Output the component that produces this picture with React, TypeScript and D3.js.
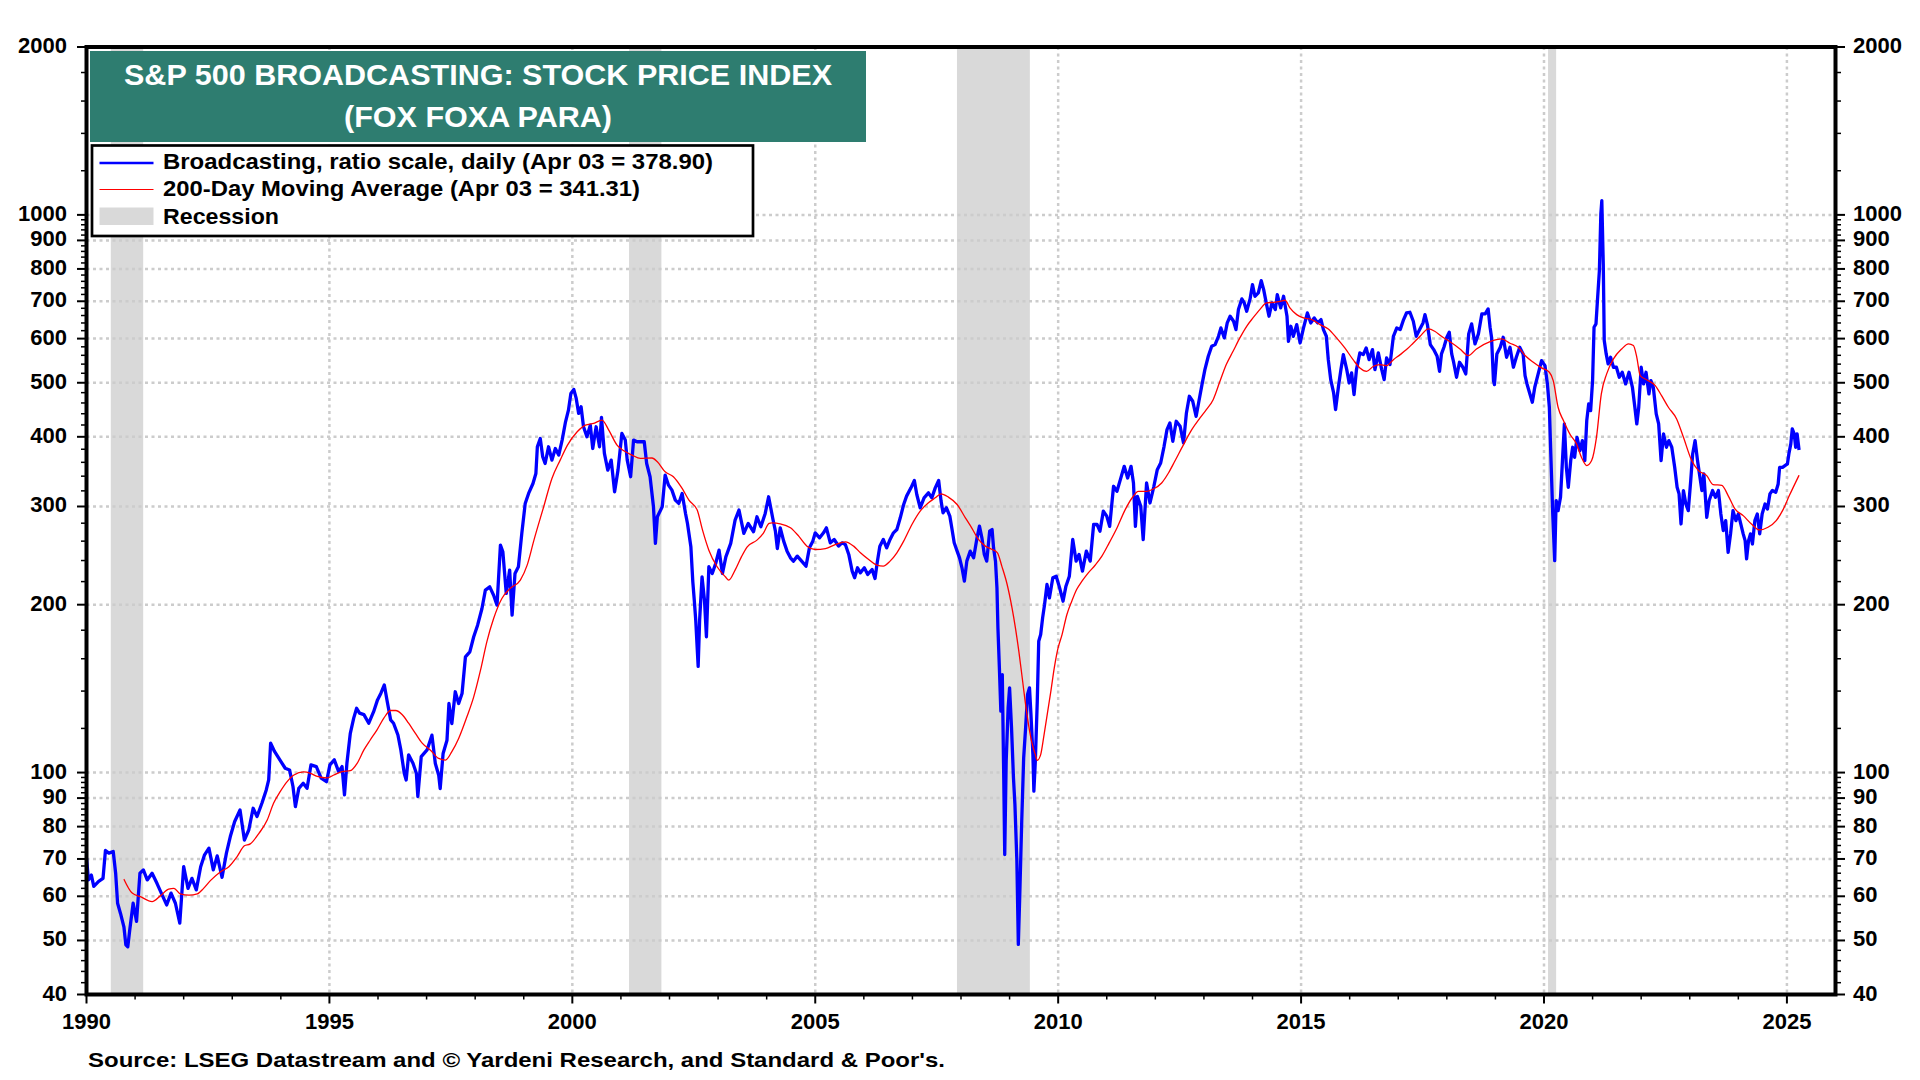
import * as d3 from 'd3';

// Broadcasting index, [decimal year, value]
const price1990s = [
  [1990.0, 70.2], [1990.04, 64.2], [1990.1, 65.5], [1990.15, 62.5], [1990.25, 63.8], [1990.34, 64.6], [1990.39, 72.5], [1990.46, 71.7],
  [1990.55, 72.2], [1990.6, 66.0], [1990.64, 58.3], [1990.7, 55.9], [1990.77, 52.9], [1990.81, 49.1], [1990.85, 48.7], [1990.89, 52.2],
  [1990.96, 58.3], [1991.03, 54.1], [1991.1, 66.0], [1991.17, 66.9], [1991.25, 64.2], [1991.35, 66.0], [1991.45, 63.3], [1991.54, 60.8],
  [1991.65, 57.9], [1991.74, 60.8], [1991.83, 58.3], [1991.92, 53.7], [1992.0, 67.8], [1992.09, 62.0], [1992.17, 64.6], [1992.26, 61.6],
  [1992.35, 67.8], [1992.43, 71.2], [1992.52, 73.2], [1992.61, 66.9], [1992.69, 70.9], [1992.79, 64.9], [1992.88, 71.7], [1992.96, 76.8],
  [1993.05, 81.7], [1993.16, 85.7], [1993.25, 75.7], [1993.34, 78.9], [1993.43, 86.3], [1993.51, 83.4], [1993.61, 88.1], [1993.7, 93.1],
  [1993.75, 97.0], [1993.79, 112.9], [1993.87, 109.1], [1993.98, 105.4], [1994.09, 101.8], [1994.18, 101.1], [1994.25, 94.4], [1994.3, 86.9],
  [1994.37, 93.7], [1994.46, 95.7], [1994.54, 93.7], [1994.62, 103.2], [1994.73, 102.5], [1994.83, 97.7], [1994.94, 96.3], [1995.01, 103.2],
  [1995.1, 105.4], [1995.19, 100.4], [1995.26, 102.5], [1995.31, 91.2], [1995.36, 103.9], [1995.43, 117.6], [1995.5, 125.2], [1995.56, 130.4],
  [1995.62, 127.8], [1995.71, 127.0], [1995.81, 122.6], [1995.91, 128.6], [1995.99, 135.0], [1996.06, 138.8], [1996.13, 143.6], [1996.19, 134.1],
  [1996.26, 124.3], [1996.32, 122.6], [1996.41, 116.8], [1996.47, 109.8], [1996.54, 99.7], [1996.58, 97.0], [1996.63, 107.6], [1996.72, 103.9],
  [1996.79, 99.7], [1996.82, 90.6], [1996.89, 106.8], [1997.01, 109.8], [1997.11, 116.7], [1997.18, 103.8], [1997.25, 98.9], [1997.28, 93.6],
  [1997.34, 108.2], [1997.42, 114.3], [1997.46, 133.0], [1997.52, 122.4], [1997.59, 139.6], [1997.66, 133.0], [1997.73, 138.6], [1997.8, 161.3],
  [1997.89, 164.6], [1997.97, 175.2], [1998.05, 183.8], [1998.14, 196.9], [1998.21, 212.4], [1998.3, 215.3], [1998.38, 208.0], [1998.45, 199.6],
  [1998.52, 255.7], [1998.57, 248.8], [1998.64, 209.5], [1998.71, 230.7], [1998.76, 191.5], [1998.82, 227.5], [1998.89, 233.9], [1998.96, 268.4],
  [1999.03, 303.8], [1999.1, 316.6], [1999.19, 329.9], [1999.25, 343.8], [1999.28, 383.9], [1999.34, 397.3], [1999.39, 368.4], [1999.44, 358.3],
  [1999.51, 383.9], [1999.58, 363.3], [1999.65, 381.2], [1999.72, 370.9], [1999.79, 394.6], [1999.86, 425.6], [1999.92, 446.6], [1999.97, 478.5],
];

const price2000s = [
  [2000.03, 486.4], [2000.08, 468.7], [2000.13, 440.5], [2000.18, 452.8], [2000.23, 416.9], [2000.3, 400.0], [2000.37, 419.8], [2000.42, 381.2],
  [2000.49, 416.9], [2000.56, 383.9], [2000.6, 433.3], [2000.66, 373.5], [2000.73, 348.6], [2000.8, 363.3], [2000.87, 318.8], [2000.94, 348.6],
  [2001.02, 405.6], [2001.09, 394.6], [2001.13, 363.3], [2001.2, 339.2], [2001.26, 394.6], [2001.33, 391.9], [2001.42, 391.9], [2001.48, 391.9],
  [2001.53, 358.3], [2001.6, 339.2], [2001.67, 299.6], [2001.71, 257.6], [2001.75, 287.5], [2001.85, 299.6], [2001.91, 341.5], [2001.98, 327.6],
  [2002.05, 321.0], [2002.12, 308.0], [2002.19, 303.8], [2002.26, 316.6], [2002.33, 291.5], [2002.37, 279.7], [2002.44, 254.0], [2002.48, 219.8],
  [2002.51, 203.8], [2002.54, 187.6], [2002.59, 155.0], [2002.62, 187.6], [2002.67, 224.4], [2002.72, 203.8], [2002.76, 175.2], [2002.81, 233.9],
  [2002.88, 227.5], [2002.95, 237.1], [2003.02, 250.5], [2003.09, 227.5], [2003.16, 243.7], [2003.26, 257.6], [2003.35, 283.6], [2003.43, 295.6],
  [2003.53, 268.4], [2003.62, 279.7], [2003.73, 270.3], [2003.8, 287.5], [2003.88, 275.9], [2003.97, 291.5], [2004.04, 312.3], [2004.13, 284.3],
  [2004.18, 270.9], [2004.22, 252.2], [2004.28, 274.7], [2004.35, 260.0], [2004.42, 249.5], [2004.49, 242.7], [2004.55, 239.4], [2004.63, 244.4],
  [2004.72, 239.4], [2004.81, 234.5], [2004.88, 252.9], [2004.95, 260.0], [2005.0, 269.1], [2005.09, 263.6], [2005.17, 269.1], [2005.23, 274.7],
  [2005.31, 258.2], [2005.39, 261.8], [2005.48, 254.7], [2005.55, 258.2], [2005.62, 256.4], [2005.69, 246.1], [2005.76, 229.7], [2005.81, 223.5],
  [2005.87, 232.9], [2005.93, 228.1], [2006.01, 232.9], [2006.08, 226.6], [2006.17, 231.3], [2006.23, 222.8], [2006.28, 239.4], [2006.33, 254.7],
  [2006.4, 261.8], [2006.47, 252.9], [2006.54, 261.8], [2006.61, 269.1], [2006.68, 272.8], [2006.75, 286.3], [2006.82, 302.5], [2006.88, 313.1],
  [2006.97, 324.0], [2007.04, 334.0], [2007.09, 315.2], [2007.16, 298.4], [2007.24, 310.9], [2007.33, 317.4], [2007.4, 310.9], [2007.47, 324.0],
  [2007.54, 334.0], [2007.59, 306.7], [2007.63, 292.3], [2007.7, 298.4], [2007.77, 288.3], [2007.81, 274.7], [2007.86, 258.2], [2007.92, 249.5],
  [2007.97, 242.7], [2008.02, 232.9], [2008.07, 220.4], [2008.12, 239.4], [2008.19, 249.5], [2008.26, 242.7], [2008.33, 263.6], [2008.38, 276.6],
  [2008.43, 263.6], [2008.48, 246.1], [2008.53, 239.4], [2008.59, 270.9], [2008.64, 272.8], [2008.67, 252.9], [2008.71, 239.4], [2008.74, 214.4],
  [2008.76, 181.8], [2008.79, 154.1], [2008.82, 128.9], [2008.85, 149.9], [2008.88, 97.8], [2008.9, 71.3], [2008.93, 104.8], [2008.97, 130.6],
  [2009.0, 141.9], [2009.04, 120.3], [2009.08, 97.8], [2009.11, 87.6], [2009.15, 69.4], [2009.18, 49.2], [2009.21, 60.4], [2009.25, 81.8],
  [2009.29, 106.3], [2009.33, 120.3], [2009.37, 138.0], [2009.41, 141.9], [2009.44, 127.1], [2009.48, 107.7], [2009.5, 92.6], [2009.53, 104.8],
  [2009.57, 134.3], [2009.6, 172.0], [2009.64, 176.8], [2009.68, 189.4], [2009.72, 200.1], [2009.77, 217.4], [2009.82, 205.7], [2009.89, 223.5],
  [2009.96, 225.0],
];

const price2010s = [
  [2010.03, 214.4], [2010.1, 202.9], [2010.16, 215.9], [2010.23, 225.0], [2010.3, 261.8], [2010.37, 239.4], [2010.43, 246.1], [2010.5, 229.7],
  [2010.58, 249.5], [2010.66, 239.4], [2010.73, 278.5], [2010.8, 278.5], [2010.86, 270.9], [2010.93, 294.3], [2011.0, 288.3], [2011.06, 276.4],
  [2011.14, 326.1], [2011.21, 319.4], [2011.28, 335.2], [2011.36, 354.1], [2011.43, 337.5], [2011.5, 354.1], [2011.55, 330.6], [2011.59, 276.4],
  [2011.63, 312.9], [2011.7, 300.2], [2011.75, 261.6], [2011.82, 330.6], [2011.89, 304.4], [2011.97, 326.1], [2012.04, 349.3], [2012.11, 359.0],
  [2012.18, 384.6], [2012.24, 412.0], [2012.3, 423.6], [2012.36, 392.6], [2012.43, 426.5], [2012.51, 417.8], [2012.58, 390.0], [2012.64, 441.4],
  [2012.7, 472.9], [2012.77, 463.2], [2012.84, 435.3], [2012.89, 460.0], [2012.96, 496.2], [2013.02, 527.9], [2013.09, 557.8], [2013.16, 581.3],
  [2013.23, 585.3], [2013.3, 605.8], [2013.35, 627.0], [2013.42, 601.7], [2013.48, 640.1], [2013.54, 658.0], [2013.61, 644.5], [2013.66, 622.7],
  [2013.71, 676.3], [2013.78, 706.8], [2013.83, 695.2], [2013.88, 671.7], [2013.95, 706.8], [2014.0, 749.8], [2014.05, 714.6], [2014.12, 724.5],
  [2014.18, 762.4], [2014.23, 734.6], [2014.29, 690.4], [2014.34, 658.0], [2014.4, 695.2], [2014.47, 676.3], [2014.51, 719.5], [2014.58, 681.0],
  [2014.64, 714.6], [2014.71, 658.0], [2014.74, 593.4], [2014.79, 631.3], [2014.84, 605.8], [2014.91, 635.7], [2014.98, 589.3], [2015.05, 627.0],
  [2015.13, 667.0], [2015.2, 640.1], [2015.27, 653.4], [2015.34, 640.1], [2015.41, 649.0], [2015.46, 622.7], [2015.52, 605.8], [2015.56, 550.1],
  [2015.61, 506.5], [2015.67, 479.4], [2015.71, 447.5], [2015.77, 492.8], [2015.82, 527.9], [2015.87, 561.6], [2015.94, 527.9], [2015.99, 499.6],
  [2016.04, 520.7], [2016.09, 476.1], [2016.14, 527.9], [2016.21, 565.5], [2016.28, 561.6], [2016.34, 577.3], [2016.4, 550.1], [2016.47, 573.4],
  [2016.52, 527.9], [2016.59, 565.5], [2016.66, 527.9], [2016.71, 506.5], [2016.76, 554.0], [2016.83, 538.9], [2016.9, 605.8], [2016.97, 627.0],
  [2017.04, 622.7], [2017.11, 649.0], [2017.17, 667.0], [2017.24, 668.9], [2017.31, 644.5], [2017.37, 605.8], [2017.44, 622.7], [2017.51, 640.1],
  [2017.55, 662.5], [2017.6, 635.7], [2017.66, 585.3], [2017.73, 573.4], [2017.8, 557.8], [2017.85, 524.2], [2017.89, 563.2], [2017.94, 579.0],
  [2018.0, 603.4], [2018.05, 616.0], [2018.1, 563.2], [2018.14, 544.2], [2018.2, 511.5], [2018.26, 544.2], [2018.33, 533.1], [2018.39, 518.6],
  [2018.45, 611.8], [2018.51, 637.6], [2018.58, 587.0], [2018.65, 611.8], [2018.72, 664.4], [2018.79, 664.4], [2018.85, 678.3], [2018.89, 628.8],
  [2018.92, 603.4], [2018.96, 504.5], [2018.98, 496.3], [2019.03, 563.2], [2019.1, 579.0], [2019.16, 603.4], [2019.23, 555.5], [2019.3, 579.0],
  [2019.37, 533.1], [2019.43, 555.5], [2019.5, 579.0], [2019.57, 563.2], [2019.61, 515.1], [2019.65, 497.6], [2019.71, 477.5], [2019.76, 461.3],
  [2019.81, 490.8], [2019.88, 518.6], [2019.95, 548.0],
];

const price2020s = [
  [2020.02, 536.8], [2020.07, 497.6], [2020.11, 451.9], [2020.14, 372.7], [2020.18, 290.9], [2020.22, 239.9], [2020.25, 307.4], [2020.29, 294.9],
  [2020.34, 311.6], [2020.38, 362.6], [2020.42, 421.8], [2020.46, 352.7], [2020.5, 324.8], [2020.55, 362.6], [2020.59, 383.1], [2020.63, 367.6],
  [2020.68, 399.2], [2020.74, 377.9], [2020.79, 393.8], [2020.84, 362.6], [2020.88, 427.7], [2020.92, 458.2], [2020.96, 445.7], [2021.0, 504.5],
  [2021.03, 628.8], [2021.07, 637.6], [2021.1, 702.0], [2021.14, 794.6], [2021.17, 1004.1], [2021.19, 1060.9], [2021.22, 816.8], [2021.24, 595.1],
  [2021.28, 563.2], [2021.32, 540.5], [2021.37, 555.5], [2021.43, 533.1], [2021.49, 533.1], [2021.55, 511.5], [2021.61, 522.2], [2021.68, 497.6],
  [2021.75, 522.2], [2021.82, 490.8], [2021.87, 451.9], [2021.91, 421.8], [2021.95, 451.9], [2022.0, 533.1], [2022.05, 497.6], [2022.1, 522.2],
  [2022.16, 477.5], [2022.2, 504.5], [2022.25, 490.8], [2022.31, 439.6], [2022.36, 421.8], [2022.41, 362.6], [2022.46, 404.8], [2022.52, 383.1],
  [2022.57, 393.8], [2022.63, 383.1], [2022.69, 352.7], [2022.74, 324.8], [2022.78, 316.0], [2022.82, 279.1], [2022.87, 320.4], [2022.92, 303.1],
  [2022.97, 294.9], [2023.02, 333.8], [2023.06, 372.7], [2023.11, 393.8], [2023.16, 362.6], [2023.2, 343.1], [2023.25, 320.4], [2023.29, 343.1],
  [2023.35, 286.9], [2023.4, 307.4], [2023.47, 320.4], [2023.53, 311.6], [2023.59, 320.4], [2023.64, 290.9], [2023.69, 271.6], [2023.74, 283.0],
  [2023.79, 248.3], [2023.84, 267.9], [2023.89, 294.9], [2023.95, 283.0], [2024.0, 290.9], [2024.05, 279.1], [2024.1, 267.9], [2024.14, 260.6],
  [2024.17, 241.6], [2024.21, 260.6], [2024.25, 267.9], [2024.29, 257.0], [2024.34, 283.0], [2024.39, 290.9], [2024.44, 267.9], [2024.49, 290.9],
  [2024.55, 303.1], [2024.6, 297.0], [2024.65, 316.0], [2024.7, 320.4], [2024.77, 318.1], [2024.82, 329.3], [2024.85, 352.7], [2024.91, 352.7],
  [2024.96, 355.2], [2025.01, 357.6], [2025.04, 372.7], [2025.08, 388.4], [2025.11, 413.3], [2025.15, 404.8], [2025.18, 383.1], [2025.21, 404.8],
  [2025.25, 378.9],
];

// 200-day moving average
const ma1990s = [
  [1990.77, 64.4], [1990.94, 60.8], [1991.11, 59.9], [1991.35, 58.7], [1991.52, 60.1], [1991.69, 61.8], [1991.8, 62.0], [1991.93, 60.6],
  [1992.11, 60.3], [1992.28, 60.6], [1992.41, 62.0], [1992.55, 64.0], [1992.76, 66.4], [1992.93, 67.8], [1993.1, 70.7], [1993.25, 73.9],
  [1993.37, 74.5], [1993.55, 77.8], [1993.72, 82.2], [1993.85, 88.1], [1993.99, 92.5], [1994.13, 96.3], [1994.27, 99.0], [1994.47, 100.3],
  [1994.61, 99.7], [1994.75, 98.4], [1994.95, 97.8], [1995.09, 99.0], [1995.26, 100.4], [1995.43, 100.8], [1995.57, 103.9], [1995.71, 109.8],
  [1995.84, 114.4], [1995.98, 119.3], [1996.12, 125.2], [1996.26, 129.2], [1996.36, 129.2], [1996.5, 127.0], [1996.63, 122.6], [1996.77, 117.6],
  [1996.91, 112.9], [1997.08, 109.7], [1997.25, 106.0], [1997.39, 105.3], [1997.52, 109.0], [1997.66, 115.1], [1997.83, 125.9], [1997.97, 136.7],
  [1998.11, 152.6], [1998.24, 171.6], [1998.38, 188.9], [1998.55, 205.2], [1998.72, 213.9], [1998.93, 221.4], [1999.07, 235.5], [1999.21, 261.1],
  [1999.41, 299.6], [1999.58, 336.8], [1999.75, 363.3], [1999.9, 386.5],
];

const ma2000s = [
  [2000.1, 408.4], [2000.27, 419.8], [2000.44, 422.7], [2000.61, 428.6], [2000.75, 411.2], [2000.92, 386.5], [2001.06, 377.6], [2001.23, 370.9],
  [2001.4, 365.8], [2001.64, 366.5], [2001.75, 360.9], [2001.91, 346.2], [2002.08, 339.2], [2002.26, 323.2], [2002.4, 308.0], [2002.57, 295.6],
  [2002.68, 272.1], [2002.81, 250.5], [2002.98, 233.9], [2003.15, 224.4], [2003.22, 221.4], [2003.35, 230.7], [2003.48, 243.7], [2003.6, 254.0],
  [2003.8, 261.1], [2003.93, 268.4], [2004.05, 279.7], [2004.11, 280.3], [2004.28, 279.3], [2004.49, 274.7], [2004.66, 265.4], [2004.83, 254.7],
  [2005.0, 251.2], [2005.21, 252.2], [2005.41, 256.4], [2005.62, 259.3], [2005.79, 254.7], [2005.93, 247.8], [2006.1, 241.0], [2006.27, 235.4],
  [2006.4, 234.5], [2006.54, 239.4], [2006.68, 247.8], [2006.82, 260.0], [2006.99, 278.5], [2007.16, 294.3], [2007.33, 304.6], [2007.47, 310.9],
  [2007.59, 316.1], [2007.74, 311.8], [2007.92, 302.5], [2008.09, 286.3], [2008.22, 274.7], [2008.36, 261.8], [2008.5, 254.7], [2008.64, 251.2],
  [2008.75, 247.8], [2008.84, 234.5], [2008.95, 217.4], [2009.05, 197.4], [2009.12, 181.8], [2009.19, 165.1], [2009.26, 147.9], [2009.32, 134.3],
  [2009.39, 121.9], [2009.46, 113.0], [2009.53, 107.7], [2009.57, 105.2], [2009.64, 107.7], [2009.71, 117.0], [2009.78, 128.0], [2009.85, 140.0],
  [2009.92, 154.1], [2009.99, 166.2],
];

const ma2010s = [
  [2010.08, 176.8], [2010.18, 192.1], [2010.28, 202.9], [2010.38, 212.9], [2010.49, 220.4], [2010.62, 228.1], [2010.76, 235.4], [2010.9, 244.4],
  [2011.05, 258.1], [2011.21, 274.5], [2011.38, 296.1], [2011.52, 310.7], [2011.65, 319.4], [2011.82, 319.4], [2011.96, 322.5], [2012.13, 330.6],
  [2012.27, 344.5], [2012.4, 361.6], [2012.58, 387.3], [2012.75, 412.0], [2012.92, 432.4], [2013.05, 447.5], [2013.19, 466.3], [2013.33, 503.0],
  [2013.46, 538.9], [2013.6, 569.4], [2013.74, 601.7], [2013.88, 631.3], [2014.01, 653.4], [2014.15, 676.3], [2014.29, 695.2], [2014.43, 697.1],
  [2014.57, 700.0], [2014.67, 702.9], [2014.77, 681.0], [2014.91, 662.5], [2015.05, 653.4], [2015.22, 649.0], [2015.39, 635.7], [2015.56, 624.4],
  [2015.73, 601.7], [2015.9, 577.3], [2016.07, 550.1], [2016.21, 531.5], [2016.35, 524.2], [2016.49, 535.2], [2016.62, 538.9], [2016.76, 536.7],
  [2016.9, 550.1], [2017.04, 561.6], [2017.17, 573.4], [2017.31, 589.3], [2017.45, 605.8], [2017.62, 624.4], [2017.75, 618.5], [2017.89, 605.8],
  [2018.05, 593.4], [2018.27, 575.0], [2018.44, 559.4], [2018.61, 575.0], [2018.89, 592.7], [2019.13, 599.2], [2019.3, 588.6], [2019.47, 579.0],
  [2019.61, 559.4], [2019.78, 544.2], [2019.95, 531.6],
];

const ma2020s = [
  [2020.11, 522.2], [2020.19, 504.5], [2020.29, 451.9], [2020.4, 427.7], [2020.53, 404.8], [2020.67, 388.4], [2020.77, 367.6], [2020.88, 355.2],
  [2020.98, 362.6], [2021.08, 399.2], [2021.18, 477.5], [2021.29, 518.6], [2021.43, 551.7], [2021.6, 575.0], [2021.74, 587.0], [2021.84, 583.0],
  [2021.91, 555.5], [2021.98, 515.1], [2022.12, 505.9], [2022.29, 494.2], [2022.42, 474.2], [2022.56, 451.9], [2022.73, 430.6], [2022.87, 399.2],
  [2023.04, 362.6], [2023.18, 347.9], [2023.35, 340.8], [2023.48, 328.4], [2023.66, 327.4], [2023.79, 313.8], [2023.93, 297.0], [2024.1, 288.9],
  [2024.27, 279.1], [2024.44, 272.3], [2024.61, 275.3], [2024.78, 283.0], [2024.91, 294.9], [2025.05, 313.8], [2025.25, 341.3],
];

// recession periods [start, end] in decimal years
const recessions = [
  [1990.5, 1991.167],
  [2001.167, 2001.833],
  [2007.917, 2009.417],
  [2020.083, 2020.25],
];

const yearLabels = [1990, 1995, 2000, 2005, 2010, 2015, 2020, 2025];
const valueLabels = [40, 50, 60, 70, 80, 90, 100, 200, 300, 400, 500, 600, 700, 800, 900, 1000, 2000];
const gridValues = [50, 60, 70, 80, 90, 100, 200, 300, 400, 500, 600, 700, 800, 900, 1000];

const titleLines = ['S&P 500 BROADCASTING: STOCK PRICE INDEX', '(FOX FOXA PARA)'];
const legendLabels = [
  'Broadcasting, ratio scale, daily (Apr 03 = 378.90)',
  '200-Day Moving Average (Apr 03 = 341.31)',
  'Recession',
];
const sourceText = "Source: LSEG Datastream and \u00a9 Yardeni Research, and Standard & Poor's.";

const FONT = '"Liberation Sans", Arial, Helvetica, sans-serif';

export default function App() {
  const width = 1920;
  const height = 1080;
  const left = 86.5, right = 1835.5, top = 47, bottom = 994.5;

  const x = d3.scaleLinear().domain([1990, 2026]).range([left, right]);
  const y = d3.scaleLog().domain([40, 2000]).range([bottom, top]);

  const price = [...price1990s, ...price2000s, ...price2010s, ...price2020s];
  const ma = [...ma1990s, ...ma2000s, ...ma2010s, ...ma2020s];

  const priceLine = d3.line<number[]>().x(d => x(d[0])).y(d => y(d[1]));
  const maLine = d3.line<number[]>().x(d => x(d[0])).y(d => y(d[1])).curve(d3.curveMonotoneX);

  // minor tick positions on the log axis
  const minorTicks = [
    ...d3.range(42, 100, 2).filter(v => v % 10 !== 0),
    ...d3.range(120, 1000, 20).filter(v => v % 100 !== 0),
    ...d3.range(1200, 2000, 200),
  ];
  const years = d3.range(1990, 2026);

  const textStyle = { fontFamily: FONT, fontWeight: 700 };

  return (
    <svg width={width} height={height} style={{ position: 'absolute', left: 0, top: 0, background: '#fff' }}>
      <defs>
        <clipPath id="plot-clip">
          <rect x={left} y={top} width={right - left} height={bottom - top} />
        </clipPath>
      </defs>
      <rect x={0} y={0} width={width} height={height} fill="#fff" />

      {/* recession bands */}
      {recessions.map(([a, b], i) => (
        <rect key={i} x={x(a)} y={top} width={x(b) - x(a)} height={bottom - top} fill="#d9d9d9" />
      ))}

      {/* grid */}
      <g stroke="#cccccc" strokeWidth={2.5} strokeDasharray="3,3.5">
        {gridValues.map(v => (
          <line key={'h' + v} x1={left} x2={right} y1={y(v)} y2={y(v)} />
        ))}
        {yearLabels.filter(yr => yr > 1990).map(yr => (
          <line key={'v' + yr} x1={x(yr)} x2={x(yr)} y1={top} y2={bottom} />
        ))}
      </g>

      {/* series */}
      <g clipPath="url(#plot-clip)">
        <path d={priceLine(price) || ''} fill="none" stroke="#0000ff" strokeWidth={3.3} strokeLinejoin="round" />
        <path d={maLine(ma) || ''} fill="none" stroke="#ff0000" strokeWidth={1.3} />
      </g>

      {/* title box */}
      <rect x={90} y={51} width={776} height={91} fill="#2e7d70" />
      {titleLines.map((t, i) => (
        <text
          key={t}
          x={478}
          y={85 + i * 42}
          textAnchor="middle"
          fill="#fff"
          fontSize={30}
          textLength={i === 0 ? 708 : 268}
          lengthAdjust="spacingAndGlyphs"
          style={textStyle}
        >
          {t}
        </text>
      ))}

      {/* legend */}
      <rect x={92} y={145.5} width={661} height={90.5} fill="#fff" stroke="#000" strokeWidth={2.7} />
      <line x1={99.5} x2={153.5} y1={163} y2={163} stroke="#0000ff" strokeWidth={2.4} />
      <line x1={99.5} x2={153.5} y1={189.5} y2={189.5} stroke="#ff0000" strokeWidth={1.2} />
      <rect x={99.5} y={207.5} width={54} height={17.5} fill="#d9d9d9" />
      {legendLabels.map((t, i) => (
        <text
          key={t}
          x={163}
          y={169.3 + i * 27.1}
          fontSize={22}
          fill="#000"
          textLength={[550, 477, 116][i]}
          lengthAdjust="spacingAndGlyphs"
          style={textStyle}
        >
          {t}
        </text>
      ))}

      {/* y axis ticks, both sides */}
      <g stroke="#000">
        {valueLabels.map(v => (
          <g key={'mt' + v} strokeWidth={2}>
            <line x1={left - 9.5} x2={left} y1={y(v)} y2={y(v)} />
            <line x1={right} x2={right + 9.5} y1={y(v)} y2={y(v)} />
          </g>
        ))}
        {minorTicks.map(v => (
          <g key={'nt' + v} strokeWidth={1.5}>
            <line x1={left - 5.5} x2={left} y1={y(v)} y2={y(v)} />
            <line x1={right} x2={right + 5.5} y1={y(v)} y2={y(v)} />
          </g>
        ))}
        {years.map(yr => (
          <line
            key={'xt' + yr}
            x1={x(yr)}
            x2={x(yr)}
            y1={bottom}
            y2={bottom + (yr % 5 === 0 ? 9 : 5)}
            strokeWidth={yr % 5 === 0 ? 2 : 1.5}
          />
        ))}
      </g>

      {/* frame */}
      <rect x={left} y={top} width={right - left} height={bottom - top} fill="none" stroke="#000" strokeWidth={4} />

      {/* y labels */}
      {valueLabels.map(v => (
        <g key={'yl' + v} fontSize={22} fill="#000" style={textStyle}>
          <text x={67} y={y(v) + 6} textAnchor="end">{v}</text>
          <text x={1853} y={y(v) + 6} textAnchor="start">{v}</text>
        </g>
      ))}

      {/* x labels */}
      {yearLabels.map(yr => (
        <text key={'xl' + yr} x={x(yr)} y={1029} textAnchor="middle" fontSize={22} fill="#000" style={textStyle}>
          {yr}
        </text>
      ))}

      <text x={88} y={1067} fontSize={21} fill="#000" textLength={857} lengthAdjust="spacingAndGlyphs" style={textStyle}>
        {sourceText}
      </text>
    </svg>
  );
}
